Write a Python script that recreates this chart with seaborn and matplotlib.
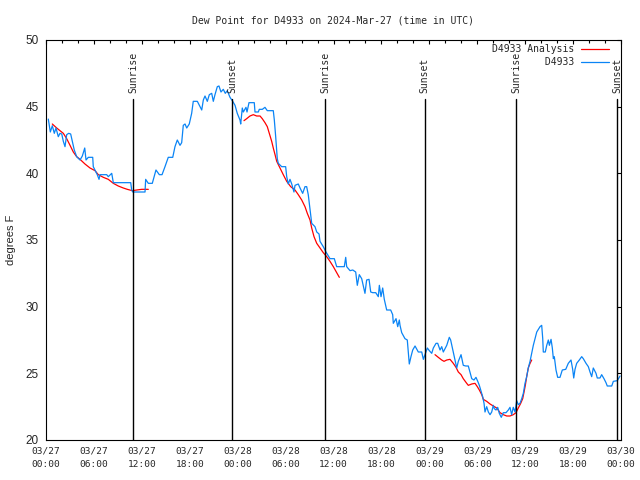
import pandas as pd
import matplotlib
matplotlib.use("Agg")
import matplotlib.pyplot as plt
import matplotlib.dates as mdates
from matplotlib.lines import Line2D
import seaborn as sns

# hours after 2024-03-27 00:00 UTC
START = pd.Timestamp("2024-03-27 00:00")

obs_hours = [
    0.29, 0.54, 0.79, 1.04, 1.25, 1.54, 1.75, 1.97, 2.17, 2.38, 2.59, 2.84, 3.09, 3.29, 3.54, 3.84,
    4.26, 4.55, 4.85, 5.01, 5.30, 5.85, 5.92, 6.17, 6.42, 6.64, 6.76, 7.60, 7.80, 8.23, 8.43, 10.61,
    10.73, 10.86, 12.40, 12.48, 12.81, 13.31, 13.77, 14.19, 14.53, 14.90, 15.31, 15.87, 16.15, 16.44,
    16.78, 16.99, 17.19, 17.41, 17.62, 17.94, 18.24, 18.44, 18.95, 19.28, 19.50, 19.70, 19.91, 20.20,
    20.45, 20.75, 20.95, 21.16, 21.45, 21.66, 21.91, 22.20, 22.45, 22.70, 23.04, 23.38, 23.67, 23.95,
    24.29, 24.38, 24.58, 24.71, 25.04, 25.17, 25.42, 26.08, 26.17, 26.58, 26.71, 27.09, 27.42, 27.71,
    28.46, 28.59, 28.76, 28.96, 29.09, 29.51, 30.01, 30.14, 30.34, 30.55, 30.77, 31.05, 31.18, 31.59,
    31.81, 32.14, 32.43, 32.64, 32.84, 32.97, 33.27, 33.68, 33.90, 34.19, 34.31, 34.72, 35.06, 35.56,
    36.10, 36.40, 37.35, 37.53, 37.65, 38.07, 38.41, 38.78, 38.98, 39.23, 39.53, 39.94, 40.15, 40.45,
    40.66, 40.91, 41.29, 41.61, 41.74, 41.95, 42.16, 42.36, 42.66, 43.16, 43.41, 43.49, 43.83, 44.04,
    44.24, 44.33, 44.54, 44.95, 45.24, 45.37, 45.49, 45.70, 45.92, 46.21, 46.62, 47.05, 47.25, 47.46,
    47.75, 48.00, 48.30, 48.50, 48.84, 49.05, 49.34, 49.55, 49.75, 50.18, 50.50, 50.67, 51.00, 51.21,
    51.43, 51.63, 51.97, 52.25, 52.56, 52.88, 53.09, 53.31, 53.59, 53.84, 54.06, 54.26, 54.56, 54.68,
    54.85, 54.97, 55.18, 55.39, 55.60, 55.81, 56.01, 56.14, 56.35, 56.56, 56.76, 57.01, 57.26, 57.60,
    57.89, 58.10, 58.31, 58.51, 58.73, 58.85, 58.94, 59.14, 59.35, 59.57, 59.77, 59.98, 60.19, 60.39,
    60.61, 60.82, 61.02, 61.23, 61.45, 61.65, 61.86, 62.07, 62.20, 62.27, 62.52, 62.70, 62.90, 63.03,
    63.24, 63.40, 63.53, 63.65, 63.86, 64.07, 64.36, 64.65, 65.08, 65.40, 65.74, 65.95, 66.08, 66.24,
    66.45, 66.78, 67.08, 67.28, 67.62, 67.91, 68.12, 68.33, 68.53, 68.87, 69.03, 69.37, 69.58, 69.87,
    70.12, 70.28, 70.84, 71.04, 71.54, 71.88,
]
obs_dewpt = [
    44.07, 43.1, 43.57, 43.0, 43.4, 42.75, 43.0, 42.95, 42.4, 42.0, 42.9, 43.0, 42.95, 42.4, 41.75, 41.25,
    41.0, 41.3, 41.9, 41.0, 41.2, 41.2, 40.5, 40.2, 39.9, 39.55, 39.9, 39.9, 39.75, 40.0, 39.3, 39.3,
    38.75, 38.6, 38.6, 39.55, 39.25, 39.25, 40.25, 39.9, 39.9, 40.5, 41.2, 41.2, 42.0, 42.5,
    42.1, 42.3, 43.6, 43.7, 43.4, 43.7, 44.5, 45.4, 45.4, 45.0, 44.75, 45.5, 45.8, 45.4,
    45.9, 46.0, 45.4, 45.9, 46.5, 46.55, 46.1, 46.3, 46.0, 46.2, 45.7, 45.4, 45.1, 44.5,
    44.0, 43.7, 44.9, 44.6, 44.95, 44.6, 45.3, 45.3, 44.6, 44.6, 44.8, 44.8, 44.95, 44.7,
    44.7, 44.0, 42.75, 41.1, 40.75, 40.5, 40.5, 39.75, 39.2, 39.55, 39.2, 38.6, 39.1, 39.2,
    38.9, 38.5, 39.0, 39.0, 38.4, 37.75, 36.25, 36.0, 35.6, 35.45, 34.9, 34.5, 34.1, 33.6,
    33.6, 33.0, 33.0, 33.7, 33.0, 32.7, 32.75, 32.6, 31.6, 32.4, 32.1, 31.0, 32.0, 32.05,
    31.1, 31.05, 31.05, 30.75, 31.6, 30.75, 31.4, 30.55, 29.75, 29.75, 29.4, 28.75, 29.1, 28.5,
    29.0, 28.6, 28.05, 27.6, 27.5, 26.6, 25.7, 26.25, 26.75, 27.05, 26.6, 26.6, 26.05, 26.4,
    26.9, 26.7, 26.5, 26.9, 27.25, 27.25, 26.75, 27.0, 26.6, 27.1, 27.7, 27.5, 26.6, 26.0,
    25.4, 25.9, 26.4, 25.6, 25.55, 25.55, 25.1, 24.6, 24.5, 24.7, 24.4, 24.1, 23.5, 23.25,
    22.75, 22.1, 22.5, 22.1, 21.9, 22.1, 22.6, 22.35, 22.25, 22.45, 22.0, 21.7, 22.05, 22.05,
    22.25, 22.45, 21.9, 22.45, 22.1, 22.6, 22.95, 22.65, 22.75, 23.1, 23.5, 24.25, 24.75, 25.4,
    25.9, 26.5, 27.1, 27.6, 28.1, 28.3, 28.5, 28.6, 27.6, 26.6, 26.6, 27.1, 27.5, 27.1,
    27.55, 26.9, 26.1, 26.25, 25.25, 24.7, 24.7, 25.25, 25.3, 25.75, 26.0, 25.3, 24.65, 25.3,
    25.75, 26.0, 26.25, 26.1, 25.75, 25.5, 25.1, 24.75, 25.4, 25.0, 24.65, 24.65, 24.9, 24.6,
    24.3, 24.05, 24.05, 24.4, 24.45, 24.8,
]

# analysis curve comes in three pieces
ana1_hours = [0.79, 1.34, 1.75, 2.17, 2.59, 3.01, 3.42, 3.84, 4.26, 4.88, 5.51, 6.14, 6.55, 7.18,
              7.80, 8.43, 9.05, 9.68, 10.18, 10.81, 11.36, 11.98, 12.81]
ana1_dewpt = [43.7, 43.4, 43.2, 43.0, 42.6, 42.1, 41.6, 41.25, 41.05, 40.7, 40.4, 40.2, 39.9, 39.7,
              39.55, 39.25, 39.05, 38.9, 38.8, 38.7, 38.75, 38.8, 38.8]
ana2_hours = [24.79, 25.13, 25.54, 25.96, 26.38, 26.80, 27.08, 27.42, 27.71, 27.96, 28.26, 28.46,
              28.68, 28.89, 29.30, 29.71, 30.14, 30.64, 31.18, 31.59, 32.02, 32.43, 32.72, 33.06,
              33.27, 33.56, 33.90, 34.31, 34.72, 35.15, 35.56, 35.98, 36.40, 36.73]
ana2_dewpt = [43.95, 44.1, 44.3, 44.4, 44.3, 44.3, 44.1, 43.8, 43.5, 43.0, 42.4, 41.9,
              41.4, 40.9, 40.4, 39.9, 39.4, 39.0, 38.75, 38.4, 38.0, 37.5, 37.0, 36.5,
              35.9, 35.25, 34.75, 34.4, 34.05, 33.75, 33.4, 33.0, 32.55, 32.2]
ana3_hours = [48.71, 49.12, 49.55, 49.84, 50.18, 50.59, 51.00, 51.34, 51.63, 51.97, 52.25, 52.68,
              52.88, 53.31, 53.72, 54.01, 54.26, 54.56, 54.76, 55.18, 55.60, 56.01, 56.44, 56.85,
              57.26, 57.69, 58.10, 58.51, 58.85, 59.14, 59.44, 59.69, 59.86, 60.02, 60.19, 60.39,
              60.61, 60.82]
ana3_dewpt = [26.4, 26.2, 26.0, 25.9, 26.0, 26.05, 25.75, 25.45, 25.1, 24.9, 24.6, 24.25,
              24.1, 24.2, 24.25, 24.0, 23.75, 23.4, 23.05, 22.9, 22.7, 22.55, 22.4, 22.05,
              21.9, 21.8, 21.8, 21.9, 22.05, 22.4, 22.75, 23.1, 23.6, 24.1, 24.75, 25.4,
              25.75, 26.0]

sunrise_hours = [10.9, 34.95, 58.9]
sunset_hours = [23.3, 47.4, 71.5]

RED = "#ff0000"
BLUE = "#0a84f5"
MONO = "DejaVu Sans Mono"
SANS = "Liberation Sans"


def to_time(hours):
    return START + pd.to_timedelta(hours, unit="h")


obs = pd.DataFrame({"time": to_time(obs_hours), "dewpt": obs_dewpt})
pieces = [(ana1_hours, ana1_dewpt), (ana2_hours, ana2_dewpt), (ana3_hours, ana3_dewpt)]
ana = pd.concat(
    [pd.DataFrame({"time": to_time(h), "dewpt": v, "seg": i}) for i, (h, v) in enumerate(pieces)],
    ignore_index=True,
)

sns.set_style("white")
plt.rcParams["font.family"] = [MONO]
plt.rcParams["font.size"] = 7

fig = plt.figure(figsize=(6.4, 4.8), dpi=100)
ax = fig.add_axes([46 / 640, 40 / 480, 575 / 640, 400 / 480])

sns.lineplot(data=ana, x="time", y="dewpt", units="seg", estimator=None,
             color=RED, linewidth=0.9, ax=ax)
sns.lineplot(data=obs, x="time", y="dewpt", color=BLUE, linewidth=0.9, ax=ax)

# sunrise / sunset markers
trans = ax.get_xaxis_transform()
for hrs, name in [(sunrise_hours, "Sunrise"), (sunset_hours, "Sunset")]:
    for h in hrs:
        t = mdates.date2num(to_time(h))
        ax.plot([t, t], [0, 0.8525], transform=trans, color="black", linewidth=1.0)
        ax.text(t, 0.8675, name, transform=trans, rotation=90, ha="center", va="bottom",
                fontsize=7, family=MONO)

ax.set_xlim(mdates.date2num(START), mdates.date2num(to_time(72)))
ax.set_ylim(20, 50)
ax.set_yticks(range(20, 51, 5))
ax.xaxis.set_major_locator(mdates.HourLocator(byhour=range(0, 24, 6)))
ax.xaxis.set_minor_locator(mdates.HourLocator(byhour=range(0, 24, 2)))
ax.xaxis.set_major_formatter(mdates.DateFormatter("%m/%d\n%H:%M"))

ax.tick_params(which="both", direction="in", top=True, right=True, color="black")
ax.tick_params(which="major", length=3.2, width=0.8)
ax.tick_params(which="minor", length=1.8, width=0.8)
ax.tick_params(axis="x", which="major", pad=5, labelsize=6.8)
ax.tick_params(axis="y", which="major", pad=5, labelsize=8.5)
for lbl in ax.get_xticklabels():
    lbl.set_linespacing(1.55)
for lbl in ax.get_yticklabels():
    lbl.set_family(SANS)

for sp in ax.spines.values():
    sp.set_visible(True)
    sp.set_color("black")
    sp.set_linewidth(0.8)

ax.set_xlabel("")
ax.set_ylabel("degrees F", family=SANS, fontsize=8, labelpad=7)
ax.set_title("Dew Point for D4933 on 2024-Mar-27 (time in UTC)", fontsize=7, pad=12)

handles = [Line2D([], [], color=RED, linewidth=0.9), Line2D([], [], color=BLUE, linewidth=0.9)]
ax.legend(handles, ["D4933 Analysis", "         D4933"], loc="upper right",
          bbox_to_anchor=(0.979, 0.99), frameon=False, markerfirst=False,
          handlelength=2.9, handletextpad=0.7, labelspacing=0.35, borderpad=0,
          borderaxespad=0, prop={"family": MONO, "size": 7})

fig.savefig("out.png", dpi=100)
